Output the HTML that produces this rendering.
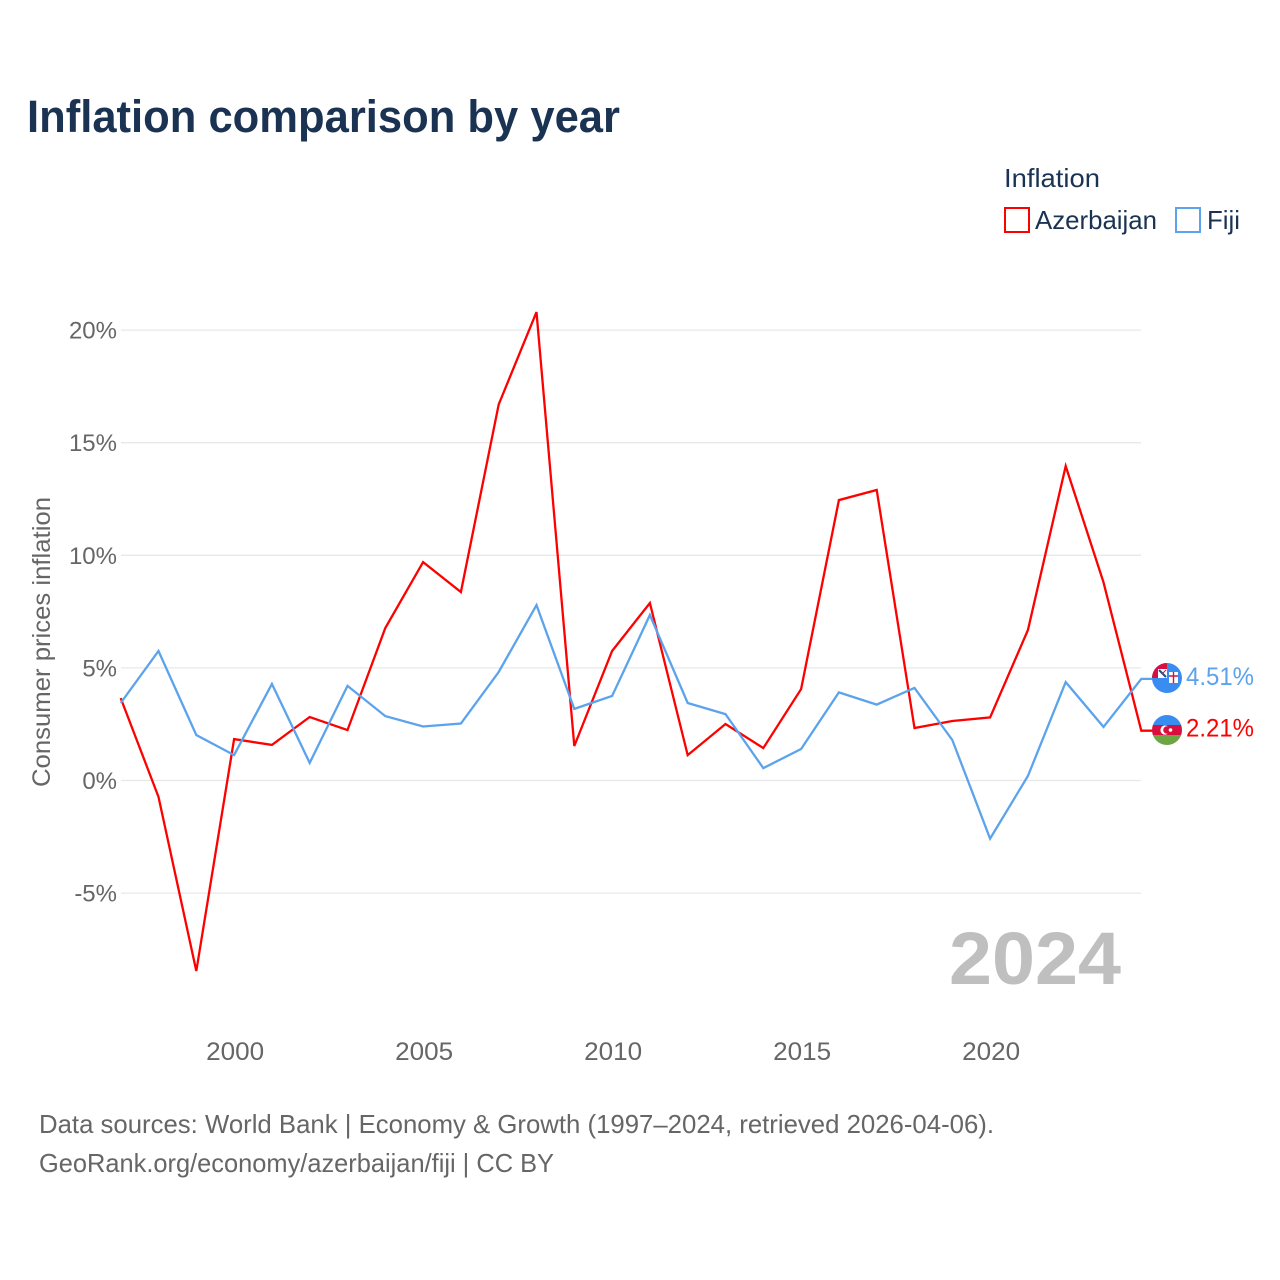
<!DOCTYPE html>
<html lang="en">
<head>
<meta charset="utf-8">
<title>Inflation comparison by year</title>
<style>
html,body{margin:0;padding:0;background:#fff}
svg{display:block;font-family:"Liberation Sans",sans-serif}
</style>
</head>
<body>
<svg id="chart" xmlns="http://www.w3.org/2000/svg" width="1280" height="1280" viewBox="0 0 1280 1280">
  <rect width="1280" height="1280" fill="#ffffff"/>
  <text x="27" y="132" font-size="45" font-weight="700" fill="#1a3353" textLength="593" lengthAdjust="spacingAndGlyphs">Inflation comparison by year</text>
  <g>
    <text x="1004" y="187" font-size="26" fill="#1a3353" textLength="96" lengthAdjust="spacingAndGlyphs">Inflation</text>
    <rect x="1005" y="208" width="24" height="24" fill="none" stroke="#ff0000" stroke-width="2"/>
    <text x="1035" y="229" font-size="26" fill="#1a3353" textLength="122" lengthAdjust="spacingAndGlyphs">Azerbaijan</text>
    <rect x="1176" y="208" width="24" height="24" fill="none" stroke="#5ba3ec" stroke-width="2"/>
    <text x="1207" y="229" font-size="26" fill="#1a3353" textLength="33" lengthAdjust="spacingAndGlyphs">Fiji</text>
  </g>
  <text transform="translate(50,787) rotate(-90)" font-size="25" fill="#666666" textLength="290" lengthAdjust="spacingAndGlyphs">Consumer prices inflation</text>
  <g id="grid"></g>
  <g id="ylabels"></g>
  <g id="xlabels"></g>
  <text x="949" y="984" font-size="74" font-weight="700" fill="#bfbfbf" textLength="172" lengthAdjust="spacingAndGlyphs">2024</text>
  <g id="series"></g>
  <defs>
    <clipPath id="clip-fj"><circle cx="1167" cy="678" r="15"/></clipPath>
    <clipPath id="clip-az"><circle cx="1167" cy="730" r="15"/></clipPath>
  </defs>
  <g id="flag-fiji" clip-path="url(#clip-fj)">
    <rect x="1152" y="663" width="30" height="30" fill="#3a8df0"/>
    <rect x="1152" y="663" width="15" height="15" fill="#d8103f"/>
    <rect x="1158" y="669" width="9" height="9" fill="#ffffff"/>
    <path d="M1159 670L1166 677" stroke="#1f4b8f" stroke-width="2"/>
    <path d="M1166 670L1162 674" stroke="#d8103f" stroke-width="1"/>
    <rect x="1169" y="672" width="9" height="11" fill="#ffffff"/>
    <path d="M1173.5 672V683M1169 676H1178" stroke="#d8103f" stroke-width="1.4"/>
  </g>
  <g id="flag-azerbaijan" clip-path="url(#clip-az)">
    <rect x="1152" y="715" width="30" height="10" fill="#3a8df0"/>
    <rect x="1152" y="725" width="30" height="10" fill="#d8103f"/>
    <rect x="1152" y="735" width="30" height="10" fill="#6da544"/>
    <circle cx="1165" cy="730" r="4.6" fill="#ffffff"/>
    <circle cx="1167" cy="730" r="3.8" fill="#d8103f"/>
    <circle cx="1170.5" cy="730" r="1.8" fill="#ffffff"/>
  </g>
  <g id="endlabels"></g>
  <text x="39" y="1133" font-size="26" fill="#666666" textLength="955" lengthAdjust="spacingAndGlyphs">Data sources: World Bank | Economy &amp; Growth (1997–2024, retrieved 2026-04-06).</text>
  <text x="39" y="1172" font-size="26" fill="#666666" textLength="515" lengthAdjust="spacingAndGlyphs">GeoRank.org/economy/azerbaijan/fiji | CC BY</text>
</svg>
<script>
const years = [1997,1998,1999,2000,2001,2002,2003,2004,2005,2006,2007,2008,2009,2010,2011,2012,2013,2014,2015,2016,2017,2018,2019,2020,2021,2022,2023,2024];
const azerbaijan = [3.66,-0.73,-8.46,1.84,1.58,2.82,2.24,6.77,9.7,8.37,16.7,20.8,1.53,5.75,7.88,1.13,2.51,1.44,4.06,12.45,12.9,2.33,2.64,2.8,6.68,13.96,8.8,2.21];
const fiji = [3.44,5.75,2.02,1.13,4.29,0.78,4.2,2.86,2.4,2.53,4.82,7.79,3.18,3.75,7.35,3.44,2.95,0.55,1.4,3.91,3.37,4.11,1.8,-2.58,0.2,4.37,2.38,4.51];
const yTicks = [-5,0,5,10,15,20];
const xTicks = [2000,2005,2010,2015,2020];

const NS = 'http://www.w3.org/2000/svg';
const xScale = v => 120.7 + (v - 1997) * 37.8;
const yScale = v => 780.5 - v * 22.52;
const make = (tag, attrs, text) => {
  const el = document.createElementNS(NS, tag);
  for (const k in attrs) el.setAttribute(k, attrs[k]);
  if (text !== undefined) el.textContent = text;
  return el;
};

const grid = document.getElementById('grid');
const ylabels = document.getElementById('ylabels');
yTicks.forEach(t => {
  const line = make('line', {x1: 121, x2: 1141, y1: yScale(t), y2: yScale(t), stroke: '#e8e8e8', 'stroke-width': 1.3});
  
  
  grid.appendChild(line);
  const label = make('text', {x: 117, y: yScale(t) + 8.5, 'text-anchor': 'end', 'font-size': 24, fill: '#666666'}, t + '%');
  
  
  ylabels.appendChild(label);
});

const xlabels = document.getElementById('xlabels');
xTicks.forEach(t => {
  const label = make('text', {x: xScale(t) + 1, y: 1060, 'text-anchor': 'middle', 'font-size': 25, fill: '#666666', textLength: 58, lengthAdjust: 'spacingAndGlyphs'}, String(t));
  
  
  xlabels.appendChild(label);
});

const series = document.getElementById('series');
const endlabels = document.getElementById('endlabels');
const drawSeries = (values, color, name) => {
  const pts = values.map((v, i) => xScale(years[i]).toFixed(1) + ',' + yScale(v).toFixed(1));
  const last = values[values.length - 1];
  pts.push('1153,' + yScale(last).toFixed(1));
  const line = make('polyline', {points: pts.join(' '), fill: 'none', stroke: color, 'stroke-width': 2.3, 'stroke-linejoin': 'miter'});
  
  
  line.setAttribute('aria-label', name);
  series.appendChild(line);
  const label = make('text', {x: 1186, y: yScale(last) + 6, 'font-size': 25, fill: color, textLength: 68, lengthAdjust: 'spacingAndGlyphs'}, last.toFixed(2) + '%');
  
  
  endlabels.appendChild(label);
};
drawSeries(azerbaijan, '#ff0000', 'Azerbaijan');
drawSeries(fiji, '#5ba3ec', 'Fiji');
</script>
</body>
</html>
